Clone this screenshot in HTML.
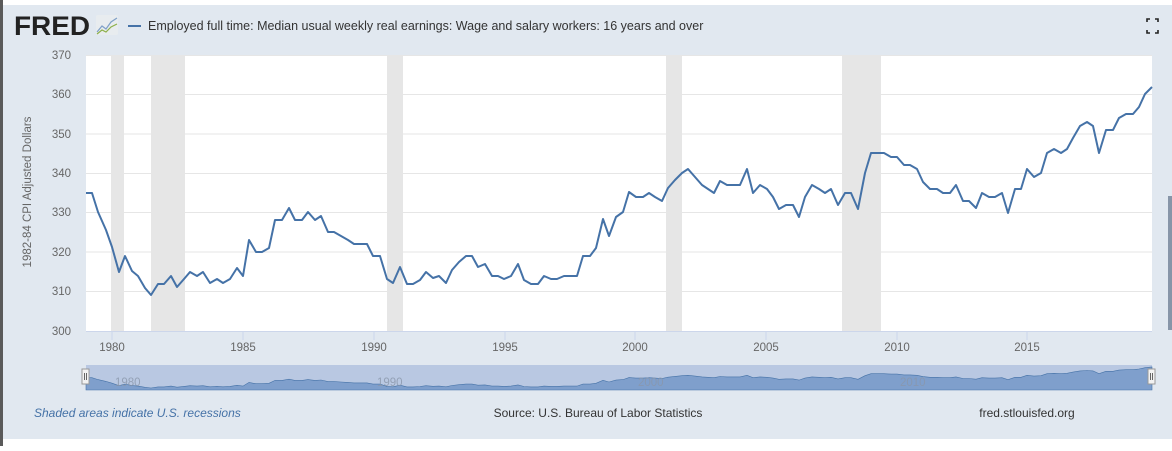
<!DOCTYPE html>
<html><head><meta charset="utf-8"><style>
body{margin:0;width:1172px;height:446px;overflow:hidden;background:#fff;font-family:"Liberation Sans",sans-serif}
</style></head><body>
<svg width="1172" height="446" xmlns="http://www.w3.org/2000/svg" font-family="Liberation Sans, sans-serif">
<rect x="0" y="0" width="1172" height="446" fill="#fff"/>
<rect x="3" y="5" width="1169" height="434" fill="#e1e8f0"/>
<rect x="0" y="0" width="3" height="446" fill="#5a5a5a"/>
<rect x="1168" y="196" width="4" height="134" fill="#8795a8"/>
<text x="14" y="35" font-size="27" font-weight="bold" fill="#222" textLength="76" lengthAdjust="spacingAndGlyphs">FRED</text>
<rect x="96" y="15" width="22" height="20" fill="#e8ecef" rx="2"/>
<polyline points="97,32 102,26 106,29 111,22 117,18" fill="none" stroke="#7fa0c8" stroke-width="1.2"/>
<polyline points="97,34 102,30 106,32 111,27 117,24" fill="none" stroke="#8db04a" stroke-width="1.2"/>
<line x1="128" y1="26" x2="141" y2="26" stroke="#4572a7" stroke-width="2"/>
<text x="148" y="30" font-size="12.5" fill="#333">Employed full time: Median usual weekly real earnings: Wage and salary workers: 16 years and over</text>
<g fill="none" stroke="#222" stroke-width="1.6"><path d="M1147 22v-3h3M1155 19h3v3M1147 30v3h3M1155 33h3v-3"/></g>
<rect x="86" y="55" width="1066" height="276" fill="#fff"/>
<g fill="#e6e6e6"><rect x="111" y="55" width="13" height="276"/><rect x="151" y="55" width="34" height="276"/><rect x="387" y="55" width="16" height="276"/><rect x="666" y="55" width="16" height="276"/><rect x="842" y="55" width="39" height="276"/></g>
<g stroke="#e6e6e6" stroke-width="1"><line x1="86" x2="1152" y1="55.5" y2="55.5"/><line x1="86" x2="1152" y1="94.5" y2="94.5"/><line x1="86" x2="1152" y1="134" y2="134"/><line x1="86" x2="1152" y1="173.5" y2="173.5"/><line x1="86" x2="1152" y1="212.5" y2="212.5"/><line x1="86" x2="1152" y1="252" y2="252"/><line x1="86" x2="1152" y1="291.5" y2="291.5"/></g>
<line x1="86" x2="1152" y1="331.5" y2="331.5" stroke="#ccd6eb"/>
<g stroke="#ccd6eb"><line x1="112" x2="112" y1="331" y2="340"/><line x1="243" x2="243" y1="331" y2="340"/><line x1="374" x2="374" y1="331" y2="340"/><line x1="505" x2="505" y1="331" y2="340"/><line x1="635" x2="635" y1="331" y2="340"/><line x1="766" x2="766" y1="331" y2="340"/><line x1="897" x2="897" y1="331" y2="340"/><line x1="1027" x2="1027" y1="331" y2="340"/></g>
<g font-size="11.5" fill="#666" text-anchor="end"><text x="71" y="59">370</text><text x="71" y="98">360</text><text x="71" y="138">350</text><text x="71" y="177">340</text><text x="71" y="216">330</text><text x="71" y="256">320</text><text x="71" y="295">310</text><text x="71" y="335">300</text></g>
<g font-size="11.5" fill="#666" text-anchor="middle"><text x="112" y="351">1980</text><text x="243" y="351">1985</text><text x="374" y="351">1990</text><text x="505" y="351">1995</text><text x="635" y="351">2000</text><text x="766" y="351">2005</text><text x="897" y="351">2010</text><text x="1027" y="351">2015</text></g>
<text transform="translate(31,192) rotate(-90)" font-size="11.5" fill="#666" text-anchor="middle">1982-84 CPI Adjusted Dollars</text>
<polyline id="main" fill="none" stroke="#4572a7" stroke-width="2" stroke-linejoin="round" points="86,193 92,193 98,212 106,230 112,247 119,272 125,256 132,271 138,276 145,288 151,295 158,284 164,284 171,276 177,287 184,279 190,272 197,276 203,272 210,283 217,279 223,283 230,279 237,268 243,276 249,240 256,252 262,252 269,248 275,220 282,220 289,208 295,220 302,220 308,212 315,220 321,216 328,232 334,232 341,236 348,240 354,244 361,244 367,244 373,256 380,256 387,279 393,283 400,267 407,284 413,284 420,280 426,272 433,278 439,276 446,283 452,270 459,262 466,256 472,256 478,267 485,264 492,276 498,276 504,279 511,276 518,264 524,280 531,284 538,284 544,276 551,279 557,279 564,276 570,276 577,276 583,256 590,256 596,248 603,219 609,236 616,217 623,212 629,192 636,197 643,197 649,193 655,197 662,201 668,188 675,180 682,173 688,169 695,177 702,185 708,189 714,193 720,181 727,185 733,185 740,185 747,169 753,193 760,185 767,189 773,197 779,209 786,205 793,205 799,217 805,197 812,185 819,189 825,193 831,189 838,205 845,193 851,193 858,209 865,173 871,153 878,153 884,153 891,157 897,157 904,165 910,165 917,169 923,182 930,189 937,189 943,193 950,193 956,185 963,201 969,201 976,208 982,193 989,197 995,197 1002,193 1008,213 1015,189 1021,189 1027,169 1034,177 1041,173 1047,153 1054,149 1061,153 1067,149 1073,138 1080,126 1087,122 1093,126 1099,153 1106,130 1113,130 1119,118 1126,114 1133,114 1139,107 1145,94 1152,87"/>
<rect x="86" y="365" width="1066" height="25" fill="#b9c8e2"/>
<path id="nav" fill="#7f9fcc" stroke="#4572a7" stroke-width="0.6"/>
<g font-size="11.5" fill="#8a97ab" opacity="0.8"><text x="115" y="386">1980</text><text x="377" y="386">1990</text><text x="638" y="386">2000</text><text x="900" y="386">2010</text></g>
<rect x="82" y="369" width="7" height="15" fill="#f2f2f2" stroke="#999"/>
<rect x="1148" y="369" width="7" height="15" fill="#f2f2f2" stroke="#999"/>
<g stroke="#666" stroke-width="1"><line x1="84.5" x2="84.5" y1="373" y2="380"/><line x1="86.5" x2="86.5" y1="373" y2="380"/><line x1="1150.5" x2="1150.5" y1="373" y2="380"/><line x1="1152.5" x2="1152.5" y1="373" y2="380"/></g>
<text x="34" y="417" font-size="12" font-style="italic" fill="#4572a7">Shaded areas indicate U.S. recessions</text>
<text x="598" y="417" font-size="12" fill="#333" text-anchor="middle">Source: U.S. Bureau of Labor Statistics</text>
<text x="1027" y="417" font-size="12" fill="#333" text-anchor="middle">fred.stlouisfed.org</text>
</svg>
<script>
var pts=document.getElementById('main').getAttribute('points').trim().split(/\s+/).map(function(p){var a=p.split(',');return [+a[0],+a[1]];});
var d='M86,390';pts.forEach(function(p){d+=' L'+p[0]+','+(367+(p[1]-87)*21/208).toFixed(1);});d+=' L1152,390Z';
document.getElementById('nav').setAttribute('d',d);
</script>
</body></html>
